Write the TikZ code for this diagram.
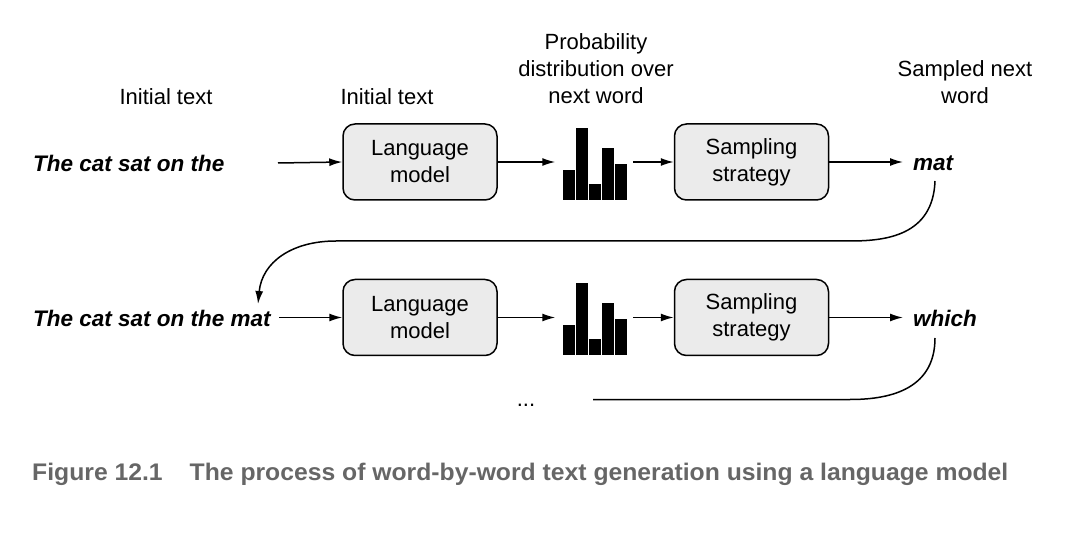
\documentclass[tikz,border=0pt]{standalone}
\usepackage{fontspec}
\setmainfont{Liberation Sans}
\newfontfamily\capfont[FakeStretch=1.03]{Liberation Sans}
\usetikzlibrary{arrows.meta}
\definecolor{boxfill}{HTML}{EBEBEB}
\definecolor{capgray}{HTML}{666666}
\begin{document}
\begin{tikzpicture}[x=1pt,y=-1pt,
  lbl/.style={font={\fontsize{22}{27}\selectfont}, align=center, inner sep=0},
  word/.style={font={\fontsize{22.5}{27}\selectfont\bfseries\itshape}, inner sep=0},
  procbox/.style={draw, line width=1.5pt, fill=boxfill, rounded corners=12pt, minimum width=154pt, minimum height=76pt, align=center, inner sep=0, font={\fontsize{22}{27}\selectfont}},
  bar/.style={fill=black, draw=none},
  conn/.style={line width=1.5pt, -{Latex[length=13pt,width=8pt]}},
  plain/.style={line width=1.5pt}
]
\useasboundingbox (0,0) rectangle (1082,537);
% headers
\node[lbl] (h1) at (166,97) {Initial text};
\node[lbl] (h2) at (387,97) {Initial text};
\node[lbl] (h3) at (596,69) {Probability\\distribution over\\next word};
\node[lbl] (h4) at (965,82) {Sampled next\\word};
% row 1
\node[word, anchor=west] (t1) at (33,163) {The cat sat on the};
\coordinate (s1) at (278,163);
\node[procbox] (lm1) at (420,162) {Language\\model};
\node[inner sep=0, minimum width=64pt, minimum height=72pt] (hist1) at (594.5,164) {};
\foreach \x/\h in {563/30,576/72,589/16,602/52,615/36}
  \fill[bar] (\x,200) rectangle ++(11.5,-\h);
\node[procbox] (ss1) at (751.5,162) {Sampling\\strategy};
\node[word, anchor=west] (w1) at (913,163) {mat};
\draw[conn] (s1) -- (lm1.west);
\draw[conn, shorten >=7pt] (lm1.east) -- (hist1.west |- lm1.east);
\draw[conn] (633,162) -- (ss1.west);
\draw[conn, shorten >=10pt] (ss1.east) -- (w1.west |- ss1.east);
% row 2
\node[word, anchor=west] (t2) at (33,318) {The cat sat on the mat};
\node[procbox] (lm2) at (420,317.5) {Language\\model};
\node[inner sep=0, minimum width=64pt, minimum height=72pt] (hist2) at (594.5,319) {};
\foreach \x/\h in {563/30,576/72,589/16,602/52,615/36}
  \fill[bar] (\x,355) rectangle ++(11.5,-\h);
\node[procbox] (ss2) at (751.5,317.5) {Sampling\\strategy};
\node[word, anchor=west] (w2) at (913,318) {which};
\coordinate (s2) at (279,317.5);
\draw[conn] (s2) -- (lm2.west);
\draw[conn, shorten >=7pt] (lm2.east) -- (hist2.west |- lm2.east);
\draw[conn] (633,317.5) -- (ss2.west);
\draw[conn, shorten >=10pt] (ss2.east) -- (w2.west |- ss2.east);
% loop back
\coordinate (m1) at (935,181);
\coordinate (e1) at (258,304);
\draw[conn] (m1) .. controls (933,236) and (885,241) .. (850,241) -- (336,241) .. controls (292,241) and (262,262) .. (e1);
\node[lbl] (dots) at (526,405) {...};
\coordinate (m2) at (935,338);
\coordinate (e2) at (593,399.5);
\draw[plain] (m2) .. controls (935,392) and (885,399.5) .. (850,399.5) -- (e2);
% caption
\node[anchor=base west, inner sep=0, text=capgray, font={\capfont\bfseries\fontsize{24}{28}\selectfont}] (cap) at (32,480) {Figure 12.1\hspace{27pt}The process of word-by-word text generation using a language model};
\end{tikzpicture}
\end{document}
